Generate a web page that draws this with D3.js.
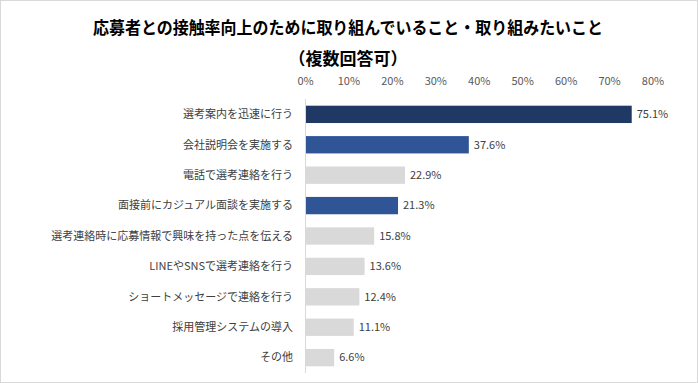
<!doctype html>
<html>

<head>
  <meta charset="utf-8">
  <title>d3</title>
  <style>
    body { margin: 0; background: #fff; }
    svg { display: block; font-family: 'Noto Sans CJK JP', 'Noto Sans', sans-serif; }
  </style>
</head>

<body>
  <svg width="698" height="383"></svg>

  <script src="https://d3js.org/d3.v7.min.js"></script>
  <script>
    const categories = [
      '選考案内を迅速に行う',
      '会社説明会を実施する',
      '電話で選考連絡を行う',
      '面接前にカジュアル面談を実施する',
      '選考連絡時に応募情報で興味を持った点を伝える',
      'LINEやSNSで選考連絡を行う',
      'ショートメッセージで連絡を行う',
      '採用管理システムの導入',
      'その他'
    ];
    const values = [75.1, 37.6, 22.9, 21.3, 15.8, 13.6, 12.4, 11.1, 6.6];
    const highlight = ['top', 'blue', 'gray', 'blue', 'gray', 'gray', 'gray', 'gray', 'gray'];
    const ticks = [0, 10, 20, 30, 40, 50, 60, 70, 80];

    const colors = { top: '#203864', blue: '#2f5597', gray: '#d9d9d9' };

    const svg = d3.select('svg');
    const W = +svg.attr('width'), H = +svg.attr('height');

    // frame
    svg.append('rect')
      .attr('x', 0.5).attr('y', 0.5)
      .attr('width', W - 1).attr('height', H - 1)
      .attr('fill', '#fff')
      .attr('stroke', '#d9d9d9');

    // title (Excel font is narrower, squeeze to the same width)
    const title = svg.append('text')
      .attr('text-anchor', 'middle')
      .attr('fill', '#000')
      .attr('font-size', 17)
      .attr('font-weight', 'bold');
    title.append('tspan').attr('x', 348).attr('y', 34)
      .attr('textLength', 510)
      .attr('lengthAdjust', 'spacingAndGlyphs')
      .text('応募者との接触率向上のために取り組んでいること・取り組みたいこと');
    title.append('tspan').attr('x', 348).attr('y', 65)
      .text('（複数回答可）');

    const x = d3.scaleLinear().domain([0, 80]).range([305.5, 653]);
    const y = d3.scaleBand().domain(categories).range([99, 373]).paddingInner(0.43).paddingOuter(0.22);

    // top tick labels
    svg.append('g')
      .selectAll('text')
      .data(ticks)
      .join('text')
      .attr('x', d => x(d))
      .attr('y', 85)
      .attr('text-anchor', 'middle')
      .attr('font-size', 11)
      .attr('fill', '#595959')
      .text(d => d + '%');

    // bars
    svg.append('g')
      .selectAll('rect')
      .data(values)
      .join('rect')
      .attr('x', x(0))
      .attr('y', (d, i) => y(categories[i]))
      .attr('width', d => x(d) - x(0))
      .attr('height', y.bandwidth())
      .attr('fill', (d, i) => colors[highlight[i]]);

    // axis line
    svg.append('line')
      .attr('x1', x(0)).attr('x2', x(0))
      .attr('y1', 99).attr('y2', 373)
      .attr('stroke', '#d9d9d9');

    // category labels
    svg.append('g')
      .selectAll('text')
      .data(categories)
      .join('text')
      .attr('x', 293)
      .attr('y', d => y(d) + y.bandwidth() / 2)
      .attr('dy', '0.35em')
      .attr('text-anchor', 'end')
      .attr('font-size', 11)
      .attr('fill', '#404040')
      .text(d => d);

    // value labels
    svg.append('g')
      .selectAll('text')
      .data(values)
      .join('text')
      .attr('x', d => x(d) + 5)
      .attr('y', (d, i) => y(categories[i]) + y.bandwidth() / 2)
      .attr('dy', '0.35em')
      .attr('font-size', 11)
      .attr('fill', '#404040')
      .text(d => d.toFixed(1) + '%');
  </script>
</body>

</html>
